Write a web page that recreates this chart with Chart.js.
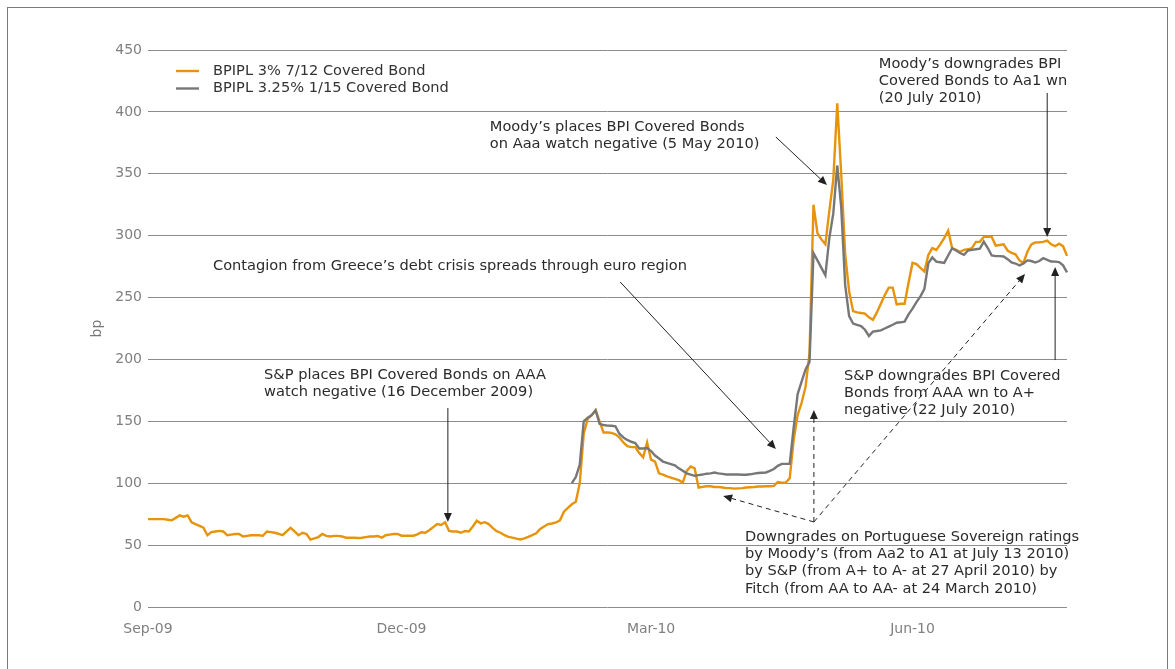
<!DOCTYPE html>
<html>
<head>
<meta charset="utf-8">
<script src="https://cdn.jsdelivr.net/npm/chart.js@4.4.1/dist/chart.umd.min.js"></script>
<style>
  body { margin: 0; background: #fff; }
  #wrap { position: relative; width: 1175px; height: 669px; overflow: hidden; }
  #frame { position: absolute; left: 7px; top: 7px; width: 1159px; height: 700px; border: 1px solid #7a7a7a; }
  #chart { position: absolute; left: 0; top: 0; }
</style>
</head>
<body>
<div id="wrap">
  <div id="frame"></div>
  <canvas id="chart" width="1175" height="669"></canvas>
</div>
<script>
// eje x: un punto por dia habil, etiquetas solo al inicio de cada trimestre
const tickLabels = ['Sep-09', 'Dec-09', 'Mar-10', 'Jun-10'];
const tickAt = [0, 64, 127, 193];

// BPIPL 3% 7/12 Covered Bond (bp)
const bpi712 = [
  71, 71, 71, 71, 71, 70.5, 70, 72, 74, 73,
  74, 68.5, 67, 65.5, 64, 58, 60.5, 61, 61.5, 61,
  58, 58.5, 59, 59, 57, 57.5, 58, 58, 58, 57.5,
  61, 60.5, 60, 59, 58, 61, 64, 61, 58, 60,
  59, 54.5, 55.5, 56.5, 59, 57.5, 57, 57.5, 57.5, 57,
  56, 56, 56, 55.8, 56, 56.5, 57, 57, 57.4, 56,
  58, 58.5, 59, 59, 57.6, 57.6, 57.6, 57.6, 58.7, 60.4,
  60, 62, 64.5, 67, 66.3, 68.4, 61.5, 61, 61, 60,
  61.4, 61, 65, 69.7, 67.6, 68.5, 67, 64, 61.2, 60,
  58, 56.6, 56, 55.2, 54.6, 55.5, 56.6, 58, 59.5, 63,
  65, 67, 67.5, 68.3, 70, 77, 80, 83, 85, 100,
  140, 152, 155, 159, 150, 141, 141, 140.7, 139.5, 137,
  133, 130, 129.2, 129.2, 124.5, 121, 133, 119, 117.5, 108,
  107, 105.5, 104.5, 103.5, 102.5, 100.5, 110, 113.5, 112, 96.5,
  97, 97.5, 97.5, 97, 97, 96.5, 96, 96, 95.6, 95.8,
  96, 96.5, 96.8, 97, 97.3, 97.3, 97.5, 97.5, 97.8, 101,
  100.5, 100.5, 104, 135, 155, 165, 178, 205, 325, 302,
  297, 293, 320, 345, 407, 350, 285, 255, 239, 238,
  237.5, 237, 234, 232, 238, 245, 252, 258, 258, 244.5,
  245, 245, 262, 278, 277, 274, 271, 284.5, 290, 288.5,
  293, 298, 304, 290, 288.5, 287, 288.5, 289, 290, 295,
  295, 299, 299, 299, 292, 292.5, 293, 288, 286, 285,
  280, 278, 287, 293, 294.5, 294.7, 295, 296, 293, 291.5,
  293.5, 291.5, 283.7
];

// BPIPL 3.25% 1/15 Covered Bond (bp), empieza en el punto 107
const bpi115Start = 107;
const bpi115 = [
  100, 105, 115, 150, 153, 155, 159, 148, 147, 146.5,
  146.4, 146, 140, 137, 135, 133.5, 132.5, 128, 128, 128.4,
  126, 122.4, 120, 117.5, 116.5, 115.5, 114.5, 112, 110, 108,
  107, 106, 106.5, 107, 107.7, 108, 108.7, 108, 107.5, 107,
  107, 107, 107, 106.8, 106.8, 107.2, 107.8, 108.3, 108.5, 108.7,
  110, 111.5, 114, 115.6, 115.6, 115.6, 145, 172, 182, 192,
  198, 285.8, 280, 274, 268, 298, 318, 356.7, 323, 260,
  235, 229, 228, 227, 224, 219, 222.5, 223, 223.5, 225,
  226.5, 228, 229.7, 230, 230.5, 236.4, 241, 246.3, 251, 257,
  277.8, 282.4, 279, 278.5, 278, 284, 289.8, 288, 286, 284.5,
  288, 288.5, 289, 289.5, 295.2, 290, 284, 283.5, 283.5, 283.2,
  281, 278.3, 277.5, 276, 277.5, 280, 279.5, 278.3, 279.5, 281.8,
  280.5, 279.1, 279, 278.6, 276, 270.3
];

const seriesNames = ['BPIPL 3% 7/12 Covered Bond', 'BPIPL 3.25% 1/15 Covered Bond'];

const naranja = '#e8930c';
const gris = '#777777';
const fuente = '"DejaVu Sans", Verdana, sans-serif';

// notas: posicion en coordenadas de datos (indice, bp)
const notas = [
  { lines: ['Moody’s places BPI Covered Bonds', 'on Aaa watch negative (5 May 2010)'], at: [86.3, 388] },
  { lines: ['Contagion from Greece’s debt crisis spreads through euro region'], at: [16.4, 275.5] },
  { lines: ['S&P places BPI Covered Bonds on AAA', 'watch negative (16 December 2009)'], at: [29.3, 187.4] },
  { lines: ['Moody’s downgrades BPI', 'Covered Bonds to Aa1 wn', '(20 July 2010)'], at: [184.5, 438.7] },
  { lines: ['S&P downgrades BPI Covered', 'Bonds from AAA wn to A+', 'negative (22 July 2010)'], at: [175.7, 186.6] },
  { lines: ['Downgrades on Portuguese Sovereign ratings', 'by Moody’s (from Aa2 to A1 at July 13 2010)',
            'by S&P (from A+ to A- at 27 April 2010) by', 'Fitch (from AA to AA- at 24 March 2010)'], at: [150.7, 56.6] }
];

const flechas = [
  { from: [158.5, 379.7], to: [171.4, 340.9] },
  { from: [119.2, 262.6], to: [158.5, 127.6] },
  { from: [75.7, 160.8], to: [75.7, 68.7] },
  { from: [227, 415.3], to: [227, 298.9] },
  { from: [229, 199.5], to: [229, 274.7] },
  { from: [168.1, 68.7], to: [145.2, 89.7], dash: true },
  { from: [168.1, 68.7], to: [168.1, 159.2], dash: true },
  { from: [168.1, 68.7], to: [221.4, 269], dash: true }
];

const labels = bpi712.map((v, i) => {
  const k = tickAt.indexOf(i);
  return k >= 0 ? tickLabels[k] : '';
});
const grisData = new Array(bpi115Start).fill(null).concat(bpi115);

function flecha(ctx, x1, y1, x2, y2, dash) {
  const ang = Math.atan2(y2 - y1, x2 - x1);
  const largo = 9, ancho = 4;
  const bx = x2 - largo * Math.cos(ang), by = y2 - largo * Math.sin(ang);
  ctx.save();
  ctx.strokeStyle = '#222';
  ctx.fillStyle = '#222';
  ctx.lineWidth = 1;
  ctx.setLineDash(dash ? [5, 4] : []);
  ctx.beginPath();
  ctx.moveTo(x1, y1);
  ctx.lineTo(bx, by);
  ctx.stroke();
  ctx.setLineDash([]);
  ctx.beginPath();
  ctx.moveTo(x2, y2);
  ctx.lineTo(bx + ancho * Math.sin(ang), by - ancho * Math.cos(ang));
  ctx.lineTo(bx - ancho * Math.sin(ang), by + ancho * Math.cos(ang));
  ctx.closePath();
  ctx.fill();
  ctx.restore();
}

const anotaciones = {
  id: 'anotaciones',
  afterDatasetsDraw(chart) {
    const { ctx, chartArea, scales: { x, y } } = chart;
    ctx.save();
    ctx.font = '14.6px ' + fuente;
    ctx.textBaseline = 'middle';
    ctx.textAlign = 'left';

    // leyenda
    [naranja, gris].forEach((c, i) => {
      const ly = chartArea.top + 21 + i * 17.5;
      ctx.strokeStyle = c;
      ctx.lineWidth = 2.4;
      ctx.beginPath();
      ctx.moveTo(chartArea.left + 28, ly);
      ctx.lineTo(chartArea.left + 51, ly);
      ctx.stroke();
      ctx.fillStyle = '#333';
      ctx.fillText(seriesNames[i], chartArea.left + 65, ly);
    });

    notas.forEach(n => {
      const px = x.getPixelForValue(n.at[0]);
      const py = y.getPixelForValue(n.at[1]);
      ctx.fillStyle = '#2b2b2b';
      n.lines.forEach((t, i) => ctx.fillText(t, px, py + i * 17.3));
    });
    ctx.restore();

    flechas.forEach(f => {
      flecha(ctx,
        x.getPixelForValue(f.from[0]), y.getPixelForValue(f.from[1]),
        x.getPixelForValue(f.to[0]), y.getPixelForValue(f.to[1]), f.dash);
    });
  }
};

new Chart(document.getElementById('chart'), {
  type: 'line',
  data: {
    labels: labels,
    datasets: [
      { label: seriesNames[0], data: bpi712, borderColor: naranja, order: 1 },
      { label: seriesNames[1], data: grisData, borderColor: gris, order: 0 }
    ]
  },
  options: {
    responsive: false,
    animation: false,
    devicePixelRatio: 1,
    layout: { padding: { left: 80, right: 108, top: 50, bottom: 30 } },
    elements: {
      point: { radius: 0 },
      line: { borderWidth: 2.4, tension: 0, spanGaps: false }
    },
    plugins: { legend: { display: false }, tooltip: { enabled: false } },
    scales: {
      x: {
        type: 'category',
        grid: { display: false, drawTicks: false },
        border: { display: false },
        ticks: { autoSkip: false, maxRotation: 0, minRotation: 0, padding: 14, color: '#808080', font: { family: fuente, size: 14 } },
        afterFit(a) { a.height = 32; }
      },
      y: {
        min: 0,
        max: 450,
        ticks: { stepSize: 50, padding: 6, color: '#808080', font: { family: fuente, size: 14 } },
        grid: { color: '#8c8c8c', lineWidth: 1, drawTicks: false },
        border: { display: false },
        title: { display: true, text: 'bp', color: '#777', font: { family: fuente, size: 14 }, padding: { top: 9, bottom: 0 } },
        afterFit(a) { a.width = 68; }
      }
    }
  },
  plugins: [anotaciones]
});
</script>
</body>
</html>
